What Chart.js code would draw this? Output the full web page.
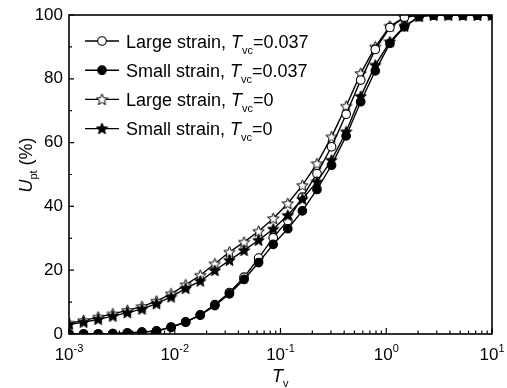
<!DOCTYPE html>
<html>
<head>
<meta charset="utf-8">
<script src="https://cdn.jsdelivr.net/npm/chart.js@4.4.1/dist/chart.umd.min.js"></script>
<style>
  html, body { margin: 0; padding: 0; background: #fff; }
  #wrap { width: 507px; height: 388px; }
</style>
</head>
<body>
<div id="wrap"><canvas id="chart" width="507" height="388"></canvas></div>
<script>
// time factor T_v (log axis)
const tv = [0.001, 0.001374, 0.001888, 0.002594, 0.003563, 0.004895, 0.006725, 0.009237,
            0.01269, 0.01743, 0.02395, 0.0329, 0.0452, 0.0621, 0.08532, 0.1172, 0.161,
            0.2212, 0.3039, 0.4175, 0.5736, 0.788, 1.083, 1.487, 2.043, 2.807, 3.857,
            5.298, 7.279, 10];

// degree of consolidation U_pt (%)
const largeStrain037 = [0, 0, 0, 0.1, 0.3, 0.6, 1.0, 2.2, 3.8, 6.0, 9.2, 13.0, 17.8, 23.8,
                        30.2, 35.6, 42.9, 50.3, 58.7, 68.9, 79.6, 89.2, 96.1, 99.3, 100,
                        100, 100, 100, 100, 100];
const smallStrain037 = [0, 0, 0, 0.1, 0.3, 0.6, 0.9, 2.1, 3.7, 5.9, 8.9, 12.6, 17.1, 22.4,
                        28.1, 33.0, 38.6, 45.3, 52.9, 62.1, 72.8, 82.5, 91.1, 96.3, 99.5,
                        100, 100, 100, 100, 100];
const largeStrain0 = [3.4, 4.2, 5.3, 6.3, 7.4, 8.6, 10.3, 12.6, 15.4, 18.4, 22.0, 25.7, 28.8,
                      32.2, 36.2, 40.9, 46.6, 53.4, 61.8, 71.4, 81.7, 90.0, 96.5, 99.3, 100,
                      100, 100, 100, 100, 100];
const smallStrain0 = [3.0, 3.7, 4.6, 5.6, 6.7, 7.8, 9.5, 11.6, 14.3, 16.6, 19.9, 23.1, 26.2,
                      29.4, 32.9, 37.2, 42.3, 47.7, 54.5, 63.4, 74.5, 84.3, 91.6, 96.5, 99.5,
                      100, 100, 100, 100, 100];

const legendNames = ['Large strain, ', 'Small strain, ', 'Large strain, ', 'Small strain, '];
const tvcValues = ['0.037', '0.037', '0', '0'];

// tick labels
const xDecades = [-3, -2, -1, 0, 1];
const yTicks = [0, 20, 40, 60, 80, 100];
const yMinor = [10, 30, 50, 70, 90];

const FONT = "'Liberation Sans', Arial, sans-serif";

// 5-point star as image for pointStyle
function makeStar(filled) {
    const s = 13;
    const c = document.createElement('canvas');
    c.width = s; c.height = s;
    const g = c.getContext('2d');
    const cx = s / 2, cy = s / 2 + 0.4, ro = 6, ri = 2.6;
    g.beginPath();
    for (let i = 0; i < 10; i++) {
        const r = i % 2 ? ri : ro;
        const a = -Math.PI / 2 + i * Math.PI / 5;
        const px = cx + r * Math.cos(a), py = cy + r * Math.sin(a);
        i ? g.lineTo(px, py) : g.moveTo(px, py);
    }
    g.closePath();
    g.fillStyle = filled ? '#000' : '#fff';
    g.fill();
    g.lineWidth = 1;
    g.strokeStyle = '#000';
    g.stroke();
    return c;
}
const starOpen = makeStar(false);
const starFilled = makeStar(true);

function pts(arr) {
    return tv.map((x, i) => ({ x: x, y: arr[i] }));
}

const markers = [
    { style: 'circle', bg: '#fff' },
    { style: 'circle', bg: '#000' },
    { style: starOpen, bg: '#fff' },
    { style: starFilled, bg: '#000' }
];
const series = [largeStrain037, smallStrain037, largeStrain0, smallStrain0];
// filled markers drawn on top
const drawOrder = [2, 0, 3, 1];

const datasets = series.map((arr, i) => ({
    label: legendNames[i] + 'Tvc=' + tvcValues[i],
    data: pts(arr),
    order: drawOrder[i],
    clip: 0,
    borderColor: '#000',
    borderWidth: 1.4,
    pointStyle: markers[i].style,
    pointRadius: 4.3,
    pointBackgroundColor: markers[i].bg,
    pointBorderColor: '#000',
    pointBorderWidth: 1.1,
    tension: 0
}));

// frame, inward ticks, tick labels, axis titles and legend
const decorPlugin = {
    id: 'decor',
    afterDraw(chart) {
        const ctx = chart.ctx;
        const a = chart.chartArea;
        const xs = chart.scales.x, ys = chart.scales.y;
        ctx.save();
        ctx.strokeStyle = '#000';
        ctx.fillStyle = '#000';

        // frame
        ctx.lineWidth = 1.6;
        ctx.strokeRect(a.left, a.top, a.right - a.left, a.bottom - a.top);

        // x ticks
        ctx.lineWidth = 1.2;
        ctx.beginPath();
        xDecades.forEach(d => {
            const px = xs.getPixelForValue(Math.pow(10, d));
            ctx.moveTo(px, a.bottom); ctx.lineTo(px, a.bottom - 6);
            if (d < 1) {
                for (let m = 2; m <= 9; m++) {
                    const p = xs.getPixelForValue(m * Math.pow(10, d));
                    ctx.moveTo(p, a.bottom); ctx.lineTo(p, a.bottom - 3.5);
                }
            }
        });
        // y ticks
        yTicks.forEach(v => {
            const py = ys.getPixelForValue(v);
            ctx.moveTo(a.left, py); ctx.lineTo(a.left + 5, py);
        });
        yMinor.forEach(v => {
            const py = ys.getPixelForValue(v);
            ctx.moveTo(a.left, py); ctx.lineTo(a.left + 3, py);
        });
        ctx.stroke();

        // y tick labels
        ctx.font = '17px ' + FONT;
        ctx.textAlign = 'right';
        ctx.textBaseline = 'middle';
        yTicks.forEach(v => {
            ctx.fillText(String(v), a.left - 6, ys.getPixelForValue(v));
        });

        // x tick labels 10^n
        ctx.textAlign = 'left';
        ctx.textBaseline = 'alphabetic';
        xDecades.forEach(d => {
            const px = xs.getPixelForValue(Math.pow(10, d));
            ctx.font = '17px ' + FONT;
            const wBase = ctx.measureText('10').width;
            ctx.font = '11px ' + FONT;
            const wExp = ctx.measureText(String(d)).width;
            const x0 = px - (wBase + wExp) / 2;
            ctx.font = '17px ' + FONT;
            ctx.fillText('10', x0, 360);
            ctx.font = '11px ' + FONT;
            ctx.fillText(String(d), x0 + wBase, 352);
        });

        // x title T_v
        ctx.font = 'italic 18px ' + FONT;
        const wT = ctx.measureText('T').width;
        ctx.fillText('T', 283 - wT, 382);
        ctx.font = '11px ' + FONT;
        ctx.fillText('v', 283, 387);

        // y title U_pt (%)
        ctx.save();
        ctx.translate(32, 165);
        ctx.rotate(-Math.PI / 2);
        ctx.font = 'italic 18px ' + FONT;
        const wU = ctx.measureText('U').width;
        ctx.font = '11px ' + FONT;
        const wPt = ctx.measureText('pt').width;
        ctx.font = '18px ' + FONT;
        const wPc = ctx.measureText(' (%)').width;
        let xx = -(wU + wPt + wPc) / 2;
        ctx.font = 'italic 18px ' + FONT;
        ctx.fillText('U', xx, 0); xx += wU;
        ctx.font = '11px ' + FONT;
        ctx.fillText('pt', xx, 5); xx += wPt;
        ctx.font = '18px ' + FONT;
        ctx.fillText(' (%)', xx, 0);
        ctx.restore();

        // legend
        legendNames.forEach((name, i) => {
            const cy = 41 + i * 29.2;
            ctx.lineWidth = 1.4;
            ctx.beginPath();
            ctx.moveTo(85, cy); ctx.lineTo(119, cy);
            ctx.stroke();
            if (markers[i].style === 'circle') {
                ctx.beginPath();
                ctx.arc(102, cy, 4.3, 0, Math.PI * 2);
                ctx.fillStyle = markers[i].bg;
                ctx.fill();
                ctx.lineWidth = 1.1;
                ctx.stroke();
            } else {
                const img = markers[i].style;
                ctx.drawImage(img, 102 - img.width / 2, cy - img.height / 2);
            }
            ctx.fillStyle = '#000';
            let tx = 126;
            const base = cy + 6.5;
            ctx.font = '18px ' + FONT;
            ctx.fillText(name, tx, base); tx += ctx.measureText(name).width;
            ctx.font = 'italic 18px ' + FONT;
            ctx.fillText('T', tx, base); tx += ctx.measureText('T').width;
            ctx.font = '11px ' + FONT;
            ctx.fillText('vc', tx, base + 6); tx += ctx.measureText('vc').width;
            ctx.font = '18px ' + FONT;
            ctx.fillText('=' + tvcValues[i], tx, base);
        });
        ctx.restore();
    }
};

new Chart(document.getElementById('chart'), {
    type: 'line',
    data: { datasets: datasets },
    options: {
        responsive: false,
        animation: false,
        layout: { padding: { left: 69, right: 15, top: 15, bottom: 54 } },
        scales: {
            x: { type: 'logarithmic', min: 0.001, max: 10, display: false },
            y: { type: 'linear', min: 0, max: 100, display: false }
        },
        plugins: {
            legend: { display: false },
            tooltip: { enabled: false }
        }
    },
    plugins: [decorPlugin]
});
</script>
</body>
</html>
